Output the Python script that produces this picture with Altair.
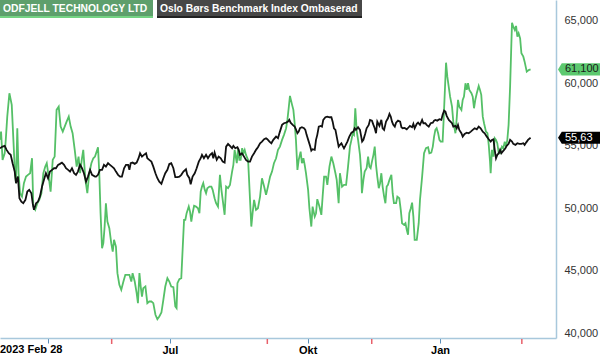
import altair as alt
import pandas as pd

# ---------------- data ----------------
series_names = ["ODFJELL TECHNOLOGY LTD", "Oslo Børs Benchmark Index Ombaserad"]

# trading-day index since 2023-02-28
green_t = [0, 0.5, 1.2, 2.2, 2.7, 3.4, 4.4, 5.5, 6.2, 7.0, 7.5, 8.1, 8.7, 9.4, 10.3, 11.2, 12.2, 13.1, 14.1, 15.0,
           15.6, 16.5, 17.5, 18.4, 19.4, 20.3, 21.2, 21.9, 22.8, 23.7, 24.7, 25.6, 26.5, 27.5, 28.4, 29.4, 30.3, 31.2,
           32.2, 33.1, 34.0, 35.0, 35.9, 36.8, 37.5, 38.4, 39.0, 40.0, 40.9, 41.8, 42.8, 43.7, 44.5,
           45.0, 45.9, 46.5, 47.1, 47.8, 48.4, 49.0, 49.6, 50.3, 51.2, 52.1, 52.8, 53.4, 54.3, 55.0, 55.9, 56.8, 57.8,
           58.7, 59.6, 60.6, 61.5, 62.1, 63.1, 64.0, 64.6, 65.3, 65.9, 66.5, 67.1, 68.1, 69.0, 69.9, 70.9, 71.8, 72.8,
           73.7, 74.6, 75.6, 76.5, 77.4, 78.4, 79.3, 80.2, 81.2, 82.1, 82.7, 83.1, 84.0, 84.9, 85.6, 86.2,
           86.8, 87.4, 88.4, 89.0, 89.6, 90.2, 90.9, 91.8, 92.7, 93.4, 94.0, 94.6, 95.2, 95.9, 96.5, 97.1, 98.1, 99.0,
           99.6, 100.5, 101.2, 102.1, 103.0, 103.7, 104.3, 105.2, 105.9, 106.8, 107.7, 108.7, 109.3, 109.9, 110.9,
           111.5, 112.1, 112.7, 113.4, 114.0, 114.6, 115.2, 116.2, 117.1, 117.7, 118.3, 119.0, 119.9, 120.8, 121.8,
           122.7, 123.7, 124.6, 125.5, 126.5, 127.4, 128.3,
           129.3, 130.2, 131.1, 132.1, 133.0, 134.0, 134.6, 135.2, 135.8, 136.8, 137.4, 138.0, 138.6, 139.3, 139.9,
           140.8, 141.4, 142.1, 142.7, 143.3, 144.3, 144.9, 145.8, 146.4, 147.4, 148.0, 148.6, 149.6, 150.5, 151.1,
           151.8, 152.7, 153.3, 154.3, 155.2, 156.1, 157.1, 157.7, 158.6, 159.2, 160.2, 161.1, 162.1, 163.0, 163.9,
           164.6, 165.2, 165.8, 166.4, 167.1, 167.7, 168.6, 169.2, 169.5, 170.2,
           170.8, 171.7, 172.4, 173.0, 173.6, 174.2, 174.9, 175.5, 176.1, 176.7, 177.4, 178.0, 178.6, 179.2, 179.9,
           180.5, 181.1, 181.7, 182.4, 183.3, 183.9, 184.5, 185.5, 186.1, 187.0, 187.7, 188.3, 189.2, 189.9, 190.5,
           191.1, 191.7, 192.4, 193.0, 193.6, 194.2, 195.2, 196.1, 196.7, 197.7, 198.6, 199.5, 200.5, 201.1, 202.0,
           202.7, 203.3, 203.9, 204.5, 205.2, 205.8, 206.4, 207.3, 207.7, 208.3, 208.9, 209.5,
           210.8, 211.7, 212.3, 213.3, 213.9, 214.5, 215.1, 216.1, 216.7, 217.3, 218.0, 218.6, 219.2, 219.8, 220.8,
           221.4, 222.0, 222.6, 223.3, 224.2, 224.8, 225.4, 226.1, 226.7, 227.6, 228.3, 228.9, 229.5, 229.8, 230.4,
           231.1, 231.7, 232.3, 232.9, 233.6, 234.2, 235.1, 235.7, 236.4, 237.0, 237.6, 238.2, 238.9, 239.5, 239.8,
           240.4, 241.1, 241.7, 242.3, 242.9, 243.6, 244.2, 245.1, 245.7, 246.7, 247.6, 248.5]
green_v = [55460, 56120, 53860, 54390, 55460, 57320, 59190, 58260, 55720, 52790, 51990, 56390, 52790, 51190, 50920,
           51990, 52520, 52660, 52790, 53990, 50120, 49860, 50390, 50660, 51190, 52790, 53320, 53590, 52520, 51320,
           53860, 54120, 57860, 58120, 56520, 56120, 56520, 56920, 57320, 56520, 55990, 54660, 53320, 54120, 52790,
           53990, 54660, 52260, 51190, 52790, 53590, 53990, 54120,
           54390, 54870, 52790, 49590, 46790, 47190, 48520, 50390, 48920, 48390, 47190, 46520, 47460, 46920, 44790,
           43860, 43460, 44120, 44660, 44660, 44660, 44120, 44790, 44120, 43190, 42390, 44790, 43720, 42920, 43590,
           43720, 42390, 42520, 42520, 42390, 41460, 41110, 41320, 41640, 42660, 43720, 44390, 44120, 43720, 43670,
           42120, 41990, 43990, 44310, 44390, 46920, 49060,
           49060, 49590, 50120, 49720, 48920, 49590, 50180, 50120, 49990, 49590, 51320, 51720, 51990, 51460, 51190,
           51590, 51720, 51720, 51460, 50790, 50390, 50120, 52660, 51460, 50660, 49460, 51720, 51590, 51860, 52920,
           53460, 54660, 53590, 54790, 53860, 53860, 54790, 54390, 54660, 54260, 53860, 50660, 48520, 49590, 50660,
           49860, 49990, 50920, 52390, 51720, 51060, 51720, 52520, 52920, 53590,
           53990, 54660, 54920, 55460, 55860, 56390, 57060, 57990, 58980, 58260, 57860, 56790, 55460, 53060, 53860,
           54520, 53590, 53990, 53460, 52790, 51460, 49990, 48520, 50120, 49320, 49590, 50710, 50120, 49460, 50920,
           52520, 52520, 51860, 53320, 54120, 53590, 52790, 52260, 50390, 52790, 51720, 51860, 51860, 53320, 54920,
           55460, 55990, 55860, 57990, 56120, 55460, 54260, 52790, 51190, 52260,
           52920, 53190, 54120, 53320, 53190, 53720, 54260, 54920, 53460, 52520, 51590, 51990, 52790, 51720, 50920,
           50390, 51720, 51860, 52260, 52660, 51190, 50390, 50390, 50920, 50790, 49860, 48790, 48660, 48790, 48260,
           47860, 49590, 49990, 50440, 49320, 47460, 47460, 48790, 50660, 52520, 54390, 54790, 54870, 54390, 54440,
           54920, 55720, 56260, 56390, 55990, 55460, 55320, 55320, 56790, 59190, 61640, 60520,
           58920, 58120, 56920, 55990, 57190, 58660, 58120, 57860, 58660, 58920, 59990, 59460, 59990, 59460, 59190,
           58920, 57990, 58660, 59190, 59780, 59460, 59060, 57320, 56790, 56120, 55990, 55060, 53720, 52790, 54660,
           54120, 55590, 55460, 55190, 54390, 54390, 54920, 54790, 55320, 54920, 55460, 56660, 59720, 63190, 64840,
           64520, 64260, 64580, 63720, 63990, 63590, 62390, 62120, 61720, 60920, 61050, 61100]

black_t = [0, 1.2, 2.2, 3.1, 4.1, 5.0, 5.9, 6.9, 7.5, 8.4, 9.1, 10.0, 10.9, 11.9, 12.8, 13.7, 14.7, 15.3, 15.9, 16.9,
           17.8, 18.7, 19.7, 20.6, 21.5, 22.5, 23.4, 24.4, 25.3, 26.2, 27.2, 28.1, 29.0, 30.0, 30.9, 31.9, 32.8, 33.7,
           34.7, 35.6, 36.5, 37.5, 38.4, 39.3, 40.3, 41.2, 42.2, 43.1, 44.5,
           45.0, 45.9, 46.8, 47.8, 48.7, 49.6, 50.6, 51.5, 52.5, 53.4, 54.3, 55.3, 56.2, 57.1, 58.1, 59.0, 60.0, 60.6,
           61.2, 62.1, 63.1, 64.0, 64.9, 65.6, 66.5, 67.4, 68.4, 69.0, 69.9, 70.9, 71.8, 72.8, 73.7, 74.6, 75.6, 76.5,
           77.4, 78.4, 79.3, 80.2, 81.2, 82.1, 83.1, 84.0, 84.9, 85.9,
           87.1, 87.7, 88.7, 89.3, 90.2, 91.2, 92.1, 93.1, 94.0, 94.6, 95.5, 96.5, 97.4, 98.4, 99.3, 99.9, 100.5,
           101.5, 102.4, 103.4, 104.3, 105.2, 105.9, 106.8, 107.7, 108.7, 109.3, 110.2, 111.2, 111.8, 112.4, 113.3,
           114.3, 115.2, 116.2, 117.1, 118.0, 119.0, 119.9, 120.8, 121.8, 122.7, 123.7, 124.6, 125.2, 126.2, 127.1,
           128.0,
           129.3, 130.2, 131.1, 132.1, 133.0, 134.0, 134.9, 135.5, 136.1, 137.1, 138.0, 138.6, 139.3, 139.9, 140.5,
           141.4, 142.4, 143.0, 143.6, 144.6, 145.2, 145.8, 146.4, 147.4, 148.0, 148.6, 149.3, 150.2, 150.8, 151.4,
           152.4, 153.3, 154.3, 155.2, 155.8, 156.4, 157.1, 157.7, 158.6, 159.2, 159.9, 160.5, 161.1, 161.7, 162.7,
           163.6, 164.6, 165.5, 166.1, 166.7, 167.7, 168.6, 169.6, 170.2,
           171.1, 171.7, 172.7, 173.3, 174.2, 174.9, 175.5, 176.1, 176.7, 177.7, 178.6, 179.2, 179.9, 180.8, 181.7,
           182.4, 183.0, 183.6, 184.2, 184.9, 185.5, 186.4, 187.4, 188.0, 188.6, 189.5, 190.5, 191.4, 192.0, 193.0,
           193.6, 194.2, 195.2, 195.8, 196.7, 197.7, 198.3, 199.2, 199.8, 200.8, 201.7, 202.7, 203.3, 203.9, 204.8,
           205.8, 206.7, 207.3, 208.0, 208.6, 209.2, 210.2,
           211.7, 212.3, 213.3, 213.9, 214.5, 215.1, 216.1, 216.7, 217.6, 218.6, 219.5, 220.5, 221.4, 222.3, 223.3,
           224.2, 225.1, 226.1, 227.0, 228.0, 228.9, 229.8, 230.4, 231.1, 231.7, 232.3, 232.9, 233.6, 234.2, 234.8,
           235.4, 236.1, 236.7, 237.3, 238.2, 238.9, 239.8, 240.4, 241.4, 242.3, 243.2, 244.2, 245.1, 245.7, 246.4,
           247.3, 248.5]
black_v = [54790, 54920, 54980, 54660, 54390, 54260, 53590, 52920, 51990, 52520, 50790, 50520, 50390, 50660, 51320,
           51460, 51190, 50390, 49860, 50390, 50520, 50920, 51720, 52260, 52790, 52390, 52920, 53060, 53190, 53190,
           53460, 53540, 53640, 53460, 53190, 53060, 52920, 53190, 52790, 52660, 52920, 53460, 53190, 52790, 52120,
           52520, 53060, 52660, 52520,
           52520, 52660, 53060, 53060, 53460, 53320, 53590, 53460, 53320, 53190, 52920, 52660, 52520, 52520, 53190,
           53460, 53460, 53060, 53590, 53640, 53540, 53640, 53990, 54390, 54120, 54260, 54390, 53990, 53860, 53720,
           53320, 52790, 52390, 52120, 51940, 52390, 52790, 53060, 53540, 53590, 53190, 52470, 52470, 52520, 52660,
           52920,
           53110, 52660, 52390, 51910, 52520, 52790, 53190, 53720, 53990, 54260, 53990, 54260, 53990, 54260, 54390,
           53990, 54440, 53860, 54120, 53990, 53720, 53640, 54920, 55140, 54980, 54790, 54980, 54790, 54870, 54660,
           54260, 54390, 54120, 53860, 53720, 53720, 54120, 54390, 54660, 54870, 55190, 55320, 55510, 55590, 55510,
           55320, 55190, 55460,
           55720, 55590, 56120, 56660, 56790, 56840, 56920, 57060, 56840, 56660, 56520, 56310, 55990, 56120, 56390,
           56470, 56390, 56260, 55860, 55320, 54980, 54600, 54710, 54660, 55460, 55860, 56520, 56580, 56520, 57060,
           57270, 57320, 57270, 57270, 56920, 56390, 56260, 55720, 54920, 55060, 55190, 54980, 54790, 54980, 55320,
           55720, 56040, 56120, 56390, 56260, 56470, 56260, 55320, 55460,
           55990, 56390, 56660, 57060, 57000, 56660, 56390, 55990, 56920, 56580, 57060, 56390, 56260, 56920, 57190,
           57540, 57320, 56920, 56660, 56520, 56840, 57000, 56920, 56470, 56390, 56420, 56310, 56470, 56580, 56470,
           56740, 56390, 56740, 56840, 56660, 57060, 56790, 56790, 56660, 56520, 56790, 56840, 57000, 57060, 57000,
           57110, 57060, 57460, 57800, 57720, 57380, 57060,
           56790, 56520, 56580, 56390, 56660, 56260, 55990, 55720, 55940, 56040, 55990, 56120, 56260, 56390, 56310,
           56520, 56390, 56120, 55990, 55720, 55510, 55320, 55460, 55510, 54660, 53990, 54260, 54390, 54660, 54390,
           54520, 54660, 54790, 54980, 55140, 55460, 55320, 55140, 55060, 55190, 55140, 55140, 55190, 55060, 55240,
           55460, 55630]

quarter_ticks = [22.3, 79.6, 144.1, 206.1]
quarter_labels = ["", "Jul", "Okt", "Jan"]
event_ticks = [52.3, 125.2, 174.1, 244.4]
y_ticks = [40000, 45000, 50000, 55000, 60000, 65000]
start_label = ["2023 Feb 28"]
end_labels = ["61,100", "55,63"]

# ---------------- styling ----------------
GREEN = "#55c067"
BLACK = "#111111"
AXIS = "#a8c8dc"
FONT = "Liberation Sans"
W, H = 556, 338
X_DOMAIN = [0, 260.4]
Y_DOMAIN = [39600, 66656]

xs = alt.Scale(domain=X_DOMAIN, nice=False, zero=False)
ys = alt.Scale(domain=Y_DOMAIN, nice=False, zero=False)

label_expr = "[" + ",".join(f"'{l}'" for l in quarter_labels) + "][indexof([" + \
    ",".join(str(q) for q in quarter_ticks) + "], datum.value)]"

x_axis = alt.Axis(values=quarter_ticks, labelExpr=label_expr, title=None, grid=False,
                  domainColor=AXIS, domainWidth=1.5, tickColor="#5b8fbb", tickSize=5, tickWidth=1,
                  labelFont=FONT, labelFontSize=11, labelFontWeight="bold", labelColor="#000",
                  labelPadding=1, labelOverlap=False, labelFlush=False)
y_axis = alt.Axis(orient="right", values=y_ticks, format=",.0f", title=None, grid=False, ticks=False,
                  domainColor=AXIS, domainWidth=1.5, labelFont=FONT, labelFontSize=11,
                  labelColor="#333", labelPadding=8, labelOverlap=False, labelFlush=False)

X = alt.X("t:Q", scale=xs, axis=x_axis)
Y = alt.Y("v:Q", scale=ys, axis=y_axis)

green_df = pd.DataFrame({"t": green_t, "v": green_v})
black_df = pd.DataFrame({"t": black_t, "v": black_v})

green_line = alt.Chart(green_df).mark_line(color=GREEN, strokeWidth=1.8).encode(x=X, y=Y)
black_line = alt.Chart(black_df).mark_line(color=BLACK, strokeWidth=1.8).encode(x=X, y=Y)

events = alt.Chart(pd.DataFrame({"t": event_ticks})).mark_rule(color="#e8606a", strokeWidth=1.5).encode(
    x=X, y=alt.value(H + 1), y2=alt.value(H + 6)
)

start = alt.Chart(pd.DataFrame({"label": start_label})).mark_text(
    align="left", baseline="top", font=FONT, fontSize=11, fontWeight="bold", color="#000"
).encode(x=alt.value(0), y=alt.value(H + 6), text="label:N")


def legend_box(name, x0, x1, fill, edge):
    d = pd.DataFrame({"name": [name]})
    box = alt.Chart(d).mark_rect(color=fill).encode(
        x=alt.value(x0), x2=alt.value(x1), y=alt.value(0), y2=alt.value(16))
    line = alt.Chart(d).mark_rect(color=edge).encode(
        x=alt.value(x0), x2=alt.value(x1), y=alt.value(16), y2=alt.value(18))
    txt = alt.Chart(d).mark_text(align="left", baseline="middle", font=FONT, fontSize=10.3,
                                 fontWeight="bold", color="white").encode(
        x=alt.value(x0 + 3), y=alt.value(9), text="name:N")
    return [box, line, txt]


legend_layers = legend_box(series_names[0], 0, 153, "#5e9f6c", "#74d383") + \
    legend_box(series_names[1], 157, 362, "#474747", "#222222")

# end-value tags
ends = pd.DataFrame({
    "v": [green_v[-1], black_v[-1]],
    "label": end_labels,
    "fill": ["#5cc96f", "#000000"],
    "tc": ["#1a1a1a", "#ffffff"],
})
tag_shape = "M -1 0 L -0.82 -0.29 L 1 -0.29 L 1 0.29 L -0.82 0.29 Z"
tags = alt.Chart(ends).mark_point(shape=tag_shape, size=1764, filled=True, opacity=1, strokeWidth=0).encode(
    x=alt.value(W + 2 + 21), y=Y, color=alt.Color("fill:N", scale=None),
)
tag_text = alt.Chart(ends).mark_text(align="left", baseline="middle", font=FONT, fontSize=11).encode(
    x=alt.value(W + 9), y=Y, text="label:N", color=alt.Color("tc:N", scale=None),
)

chart = alt.layer(
    green_line, black_line, events, start, *legend_layers, tags, tag_text
).properties(
    width=W, height=H,
    autosize=alt.AutoSizeParams(type="none"),
    padding={"left": 0, "top": 0, "right": 44, "bottom": 18},
).configure_view(strokeWidth=0)

chart.save("out.html", embed_options={"renderer": "svg", "actions": False})
